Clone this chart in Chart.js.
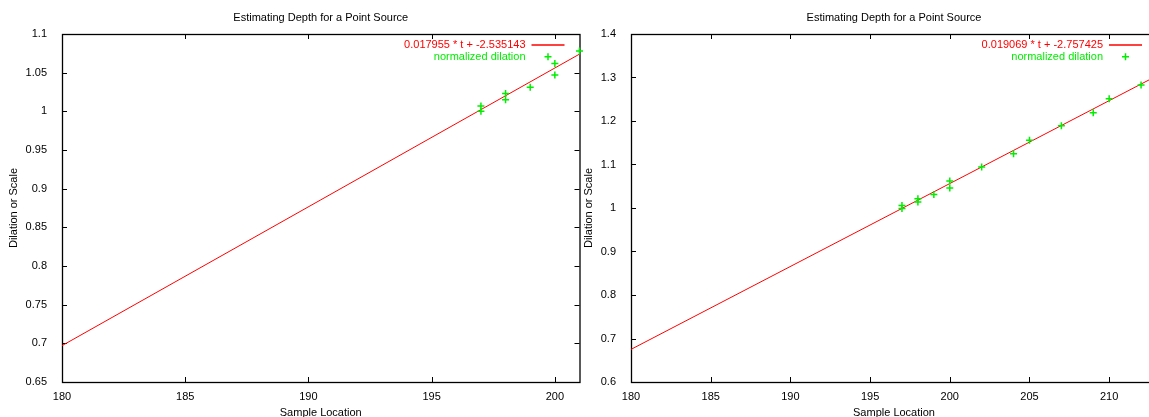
<!DOCTYPE html>
<html>
<head>
<meta charset="utf-8">
<script src="https://cdn.jsdelivr.net/npm/chart.js@4.4.1/dist/chart.umd.min.js"></script>
<style>
  html, body { margin: 0; padding: 0; background: #fff; overflow: hidden; width: 1149px; height: 417px; }
  canvas { position: absolute; top: 0; }
  #chartLeft { left: 0; }
  #chartRight { left: 575px; }
</style>
</head>
<body>
<canvas id="chartLeft" width="585" height="430"></canvas>
<canvas id="chartRight" width="600" height="430"></canvas>
<script>
const TITLE = "Estimating Depth for a Point Source";
const X_TITLE = "Sample Location";
const Y_TITLE = "Dilation or Scale";
const POINTS_LABEL = "normalized dilation";

// left plot
const leftFitLabel = "0.017955 * t + -2.535143";
const leftFitX = [180, 201];
const leftFitY = [0.697, 1.074];
const leftX = [197, 197, 198, 198, 199, 200, 200, 201];
const leftY = [1.007, 1.000, 1.023, 1.015, 1.031, 1.062, 1.047, 1.078];
const leftXTicks = [180, 185, 190, 195, 200];
const leftYTicks = [0.65, 0.7, 0.75, 0.8, 0.85, 0.9, 0.95, 1, 1.05, 1.1];

// right plot
const rightFitLabel = "0.019069 * t + -2.757425";
const rightFitX = [180, 213];
const rightFitY = [0.675, 1.304];
const rightX = [197, 197, 198, 198, 199, 200, 200, 202, 204, 205, 207, 209, 210, 212];
const rightY = [1.006, 0.999, 1.021, 1.014, 1.031, 1.062, 1.046, 1.094, 1.125, 1.156, 1.189, 1.219, 1.251, 1.283];
const rightXTicks = [180, 185, 190, 195, 200, 205, 210];
const rightYTicks = [0.6, 0.7, 0.8, 0.9, 1, 1.1, 1.2, 1.3, 1.4];

const RED = "#ff0000";
const GREEN = "#00ee00";
const FONT_FAMILY = "'Liberation Sans', Arial, sans-serif";
const font = { family: FONT_FAMILY, size: 11 };

// border box with inward mirrored ticks, plus the gnuplot style key
const gnuplotFrame = {
    id: "gnuplotFrame",
    beforeDatasetsDraw(chart) {
        const { ctx, chartArea: a, scales } = chart;
        const tl = 5;
        ctx.save();
        ctx.strokeStyle = "#000";
        ctx.lineWidth = 1;
        ctx.beginPath();
        scales.x.ticks.forEach((t) => {
            const px = Math.round(scales.x.getPixelForValue(t.value)) + 0.5;
            ctx.moveTo(px, a.bottom);
            ctx.lineTo(px, a.bottom - tl);
            ctx.moveTo(px, a.top);
            ctx.lineTo(px, a.top + tl);
        });
        scales.y.ticks.forEach((t) => {
            const py = Math.round(scales.y.getPixelForValue(t.value)) + 0.5;
            ctx.moveTo(a.left, py);
            ctx.lineTo(a.left + tl, py);
            ctx.moveTo(a.right, py);
            ctx.lineTo(a.right - tl, py);
        });
        ctx.stroke();
        ctx.lineWidth = 1.3;
        ctx.strokeRect(a.left + 0.5, a.top + 0.5, a.right - a.left, a.bottom - a.top);
        ctx.restore();
    },
    afterDraw(chart) {
        const { ctx, chartArea: a } = chart;
        const sets = chart.data.datasets;
        const textX = a.right - 54;
        const row1 = a.top + 11;
        const row2 = a.top + 22.7;
        ctx.save();
        ctx.font = `11px ${FONT_FAMILY}`;
        ctx.textAlign = "right";
        ctx.textBaseline = "middle";
        ctx.fillStyle = sets[0].borderColor;
        ctx.fillText(sets[0].label, textX, row1);
        ctx.fillStyle = sets[1].borderColor;
        ctx.fillText(sets[1].label, textX, row2);

        // key sample for the fitted line
        ctx.beginPath();
        ctx.strokeStyle = sets[0].borderColor;
        ctx.lineWidth = 1.5;
        ctx.moveTo(a.right - 48, Math.round(row1));
        ctx.lineTo(a.right - 15, Math.round(row1));
        ctx.stroke();

        const kx = a.right - 31.5;
        ctx.beginPath();
        ctx.strokeStyle = sets[1].borderColor;
        ctx.lineWidth = 1.5;
        ctx.moveTo(kx - 3.5, row2);
        ctx.lineTo(kx + 3.5, row2);
        ctx.moveTo(kx, row2 - 3.5);
        ctx.lineTo(kx, row2 + 3.5);
        ctx.stroke();
        ctx.restore();
    },
};

function makeChart(id, cfg) {
    const ctx = document.getElementById(id).getContext("2d");
    const fitData = cfg.fitX.map((x, i) => ({ x, y: cfg.fitY[i] }));
    const pointData = cfg.xs.map((x, i) => ({ x, y: cfg.ys[i] }));

    return new Chart(ctx, {
        type: "scatter",
        data: {
            datasets: [
                {
                    label: cfg.fitLabel,
                    type: "line",
                    data: fitData,
                    borderColor: RED,
                    borderWidth: 1,
                    pointRadius: 0,
                    fill: false,
                    order: 2,
                },
                {
                    label: POINTS_LABEL,
                    data: pointData,
                    pointStyle: "cross",
                    pointRadius: 3.5,
                    borderWidth: 1.5,
                    borderColor: GREEN,
                    backgroundColor: GREEN,
                    clip: 8,
                    order: 1,
                },
            ],
        },
        options: {
            responsive: false,
            animation: false,
            events: [],
            layout: { padding: { left: 0, right: cfg.padRight, top: 0, bottom: 0 } },
            plugins: {
                legend: { display: false },
                tooltip: { enabled: false },
                title: {
                    display: true,
                    text: TITLE,
                    fullSize: false,
                    color: "#000",
                    font: { family: FONT_FAMILY, size: 11, weight: "normal" },
                    padding: { top: 11.5, bottom: 9.3 },
                },
            },
            scales: {
                x: {
                    type: "linear",
                    min: cfg.xMin,
                    max: cfg.xMax,
                    afterBuildTicks: (s) => { s.ticks = cfg.xTicks.map((v) => ({ value: v })); },
                    afterFit: (s) => { s.height = 48; },
                    grid: { display: false },
                    border: { display: false },
                    ticks: { padding: 0, color: "#000", font, autoSkip: false, maxRotation: 0, callback: (v) => String(v) },
                    title: { display: true, text: X_TITLE, color: "#000", font, padding: { top: 0, bottom: 10 } },
                },
                y: {
                    type: "linear",
                    min: cfg.yMin,
                    max: cfg.yMax,
                    afterBuildTicks: (s) => { s.ticks = cfg.yTicks.map((v) => ({ value: v })); },
                    afterFit: (s) => { s.width = cfg.yWidth; },
                    grid: { display: false },
                    border: { display: false },
                    ticks: { padding: 7, color: "#000", font, autoSkip: false, callback: (v) => String(v) },
                    title: { display: true, text: Y_TITLE, color: "#000", font, padding: { top: cfg.yTitlePad, bottom: 0 } },
                },
            },
        },
        plugins: [gnuplotFrame],
    });
}

makeChart("chartLeft", {
    fitLabel: leftFitLabel, fitX: leftFitX, fitY: leftFitY,
    xs: leftX, ys: leftY,
    xTicks: leftXTicks, yTicks: leftYTicks,
    xMin: 180, xMax: 201, yMin: 0.65, yMax: 1.1,
    yWidth: 62, yTitlePad: 7.5, padRight: 4,
});

makeChart("chartRight", {
    fitLabel: rightFitLabel, fitX: rightFitX, fitY: rightFitY,
    xs: rightX, ys: rightY,
    xTicks: rightXTicks, yTicks: rightYTicks,
    xMin: 180, xMax: 213, yMin: 0.6, yMax: 1.4,
    yWidth: 56, yTitlePad: 7, padRight: 18,
});
</script>
</body>
</html>
